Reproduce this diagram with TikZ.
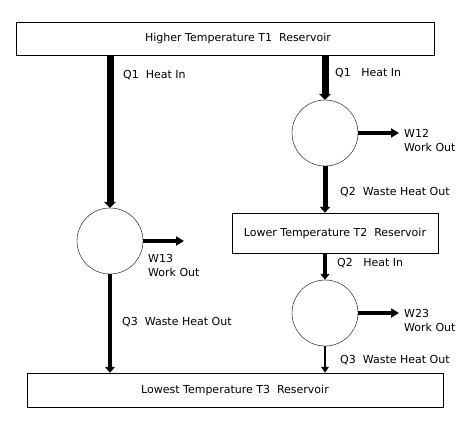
\documentclass[tikz,border=0pt]{standalone}
\usepackage{fontspec}
\setmainfont{DejaVu Sans}
\usetikzlibrary{arrows.meta}
\tikzset{
  reservoir/.style={draw, thin, inner sep=0pt, font=\fontsize{11}{13}\selectfont},
  engine/.style={draw, thin, circle, minimum size=66pt, inner sep=0pt},
  flow/.style={-{Triangle[length=6pt, width=#1+5pt]}, line width=#1},
  work/.style={-{Triangle[length=8pt, width=9pt]}, line width=4pt},
  txt/.style={anchor=west, inner sep=0pt, font=\fontsize{11}{14}\selectfont, align=left}
}
\begin{document}
\begin{tikzpicture}[x=1pt, y=-1pt]
            \useasboundingbox (0,0) rectangle (474,424);
            % reservoirs
            \node[reservoir, minimum width=418pt, minimum height=33pt] (t1) at (225,38.5)
                {\hspace{26pt}Higher Temperature T1\ \ Reservoir};
            \node[reservoir, minimum width=206pt, minimum height=40pt] (t2) at (335,233)
                {Lower Temperature T2\ \ Reservoir};
            \node[reservoir, minimum width=416pt, minimum height=34pt] (t3) at (235,390)
                {Lowest Temperature T3\ \ Reservoir\hspace{44pt}};
            % engines
            \node[engine] (e13) at (110,241) {};
            \node[engine] (e12) at (325,133) {};
            \node[engine] (e23) at (325,313) {};
            \coordinate (w13) at (184,241);
            \coordinate (w12) at (399,133);
            \coordinate (w23) at (399,313);
            % heat flows
            \draw[flow=7pt] (t1.south -| e13) -- (e13.north);
            \draw[flow=4.5pt] (e13.south) -- (t3.north -| e13);
            \draw[flow=7pt] (t1.south -| e12) -- (e12.north);
            \draw[flow=5pt] (e12.south) -- (t2.north -| e12);
            \draw[flow=4pt] (t2.south -| e23) -- (e23.north);
            \draw[flow=2.5pt] (e23.south) -- (t3.north -| e23);
            % work out
            \draw[work] (e13.east) -- (w13);
            \draw[work] (e12.east) -- (w12);
            \draw[work] (e23.east) -- (w23);
            % labels
            \node[txt] (q1a) at (123,75) {Q1\ \ Heat In};
            \node[txt] (q3a) at (122,322) {Q3\ \ Waste Heat Out};
            \node[txt] (w13l) at (148,265) {W13\\Work Out};
            \node[txt] (q1b) at (335,73) {Q1\ \ \ Heat In};
            \node[txt] (w12l) at (404,140) {W12\\Work Out};
            \node[txt] (q2a) at (340,192) {Q2\ \ Waste Heat Out};
            \node[txt] (q2b) at (337,263) {Q2\ \ \ Heat In};
            \node[txt] (w23l) at (404,320) {W23\\Work Out};
            \node[txt] (q3b) at (340,360) {Q3\ \ Waste Heat Out};
        \end{tikzpicture}
\end{document}
